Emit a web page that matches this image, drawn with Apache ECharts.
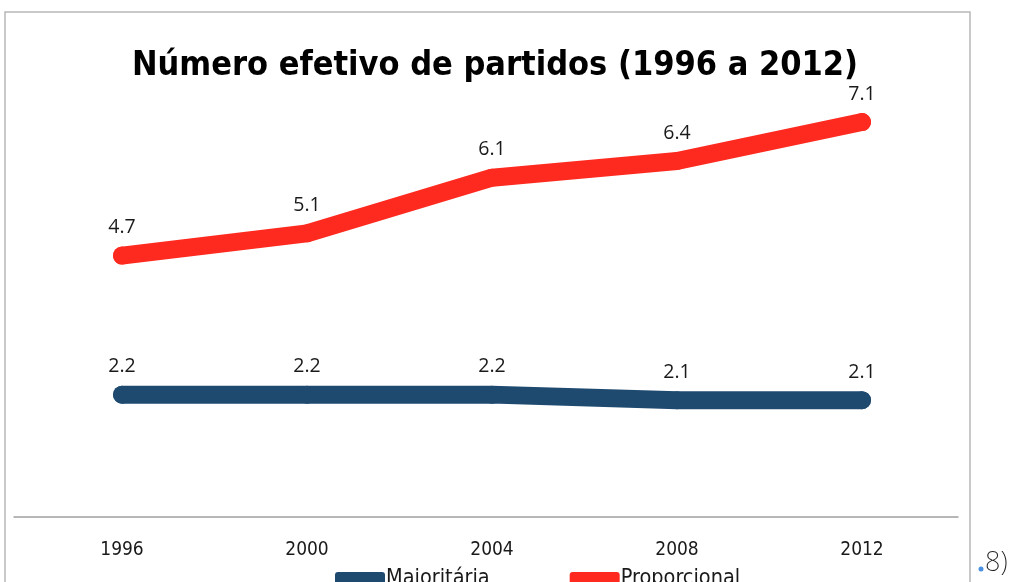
<!DOCTYPE html>
<html>
<head>
<meta charset="utf-8">
<script src="https://cdn.jsdelivr.net/npm/echarts@6/dist/echarts.min.js"></script>
<style>
    html, body { margin: 0; padding: 0; background: #fff; }
    #chart { width: 1014px; height: 582px; }
</style>
</head>
<body>
<div id="chart"></div>
<script>
// Chart data
const years = ['1996', '2000', '2004', '2008', '2012'];
const majoritaria = [2.2, 2.2, 2.2, 2.1, 2.1];
const proporcional = [4.7, 5.1, 6.1, 6.4, 7.1];
const seriesNames = ['Majoritária', 'Proporcional'];
const titleText = 'Número efetivo de partidos (1996 a 2012)';

const narrowFont = '"Liberation Sans Narrow", "DejaVu Sans Condensed", "Open Sans", sans-serif';

const chart = echarts.init(document.getElementById('chart'));

function lineSeries(name, data, color) {
    return {
        name: name,
        type: 'line',
        data: data,
        symbol: 'circle',
        symbolSize: 18,
        itemStyle: { color: color },
        lineStyle: { color: color, width: 18, cap: 'round', join: 'round' },
        label: {
            show: true,
            position: 'top',
            distance: 9,
            color: '#1a1a1a',
            fontFamily: '"Open Sans", sans-serif',
            fontSize: 19.5,
            formatter: p => p.value.toFixed(1)
        },
        emphasis: { disabled: true },
        z: 3
    };
}

const option = {
    animation: false,
    title: {
        text: titleText,
        left: 490,
        textAlign: 'center',
        top: 44,
        textStyle: {
            fontFamily: narrowFont,
            fontWeight: 'bold',
            fontSize: 34,
            color: '#000'
        }
    },
    legend: {
        data: seriesNames,
        left: 330,
        top: 562,
        itemWidth: 50,
        itemHeight: 12,
        itemGap: 80,
        icon: 'roundRect',
        textStyle: { fontFamily: narrowFont, fontSize: 21.5, color: '#1a1a1a', padding: [0, 0, 0, -4] }
    },
    grid: [
        { left: 29.5, right: 59.5, top: 72, bottom: 65 },
        { left: 14, right: 56, top: 72, bottom: 65 }
    ],
    xAxis: [
        {
            type: 'category',
            gridIndex: 0,
            data: years,
            boundaryGap: true,
            axisLine: { show: false },
            axisTick: { show: false },
            axisLabel: {
                fontFamily: narrowFont,
                fontSize: 19,
                color: '#1a1a1a',
                margin: 24
            }
        },
        {
            type: 'category',
            gridIndex: 1,
            data: years,
            axisLine: { show: true, lineStyle: { color: '#a0a0a0', width: 1.5 } },
            axisTick: { show: false },
            axisLabel: { show: false }
        }
    ],
    yAxis: [
        { type: 'value', gridIndex: 0, min: 0, max: 8, show: false },
        { type: 'value', gridIndex: 1, min: 0, max: 8, show: false }
    ],
    series: [
        lineSeries(seriesNames[0], majoritaria, '#1f4a70'),
        lineSeries(seriesNames[1], proporcional, '#ff2a1f')
    ],
    graphic: [
        {
            type: 'rect',
            shape: { x: 5, y: 12, width: 965, height: 620 },
            style: { fill: 'none', stroke: '#b8b8b8', lineWidth: 1.5 },
            silent: true
        },
        {
            type: 'text',
            left: 985,
            top: 550,
            style: {
                text: '8)',
                fontFamily: '"Noto Sans", sans-serif',
                fontWeight: 200,
                fontSize: 27,
                fill: '#222'
            }
        },
        {
            type: 'circle',
            shape: { cx: 981, cy: 569, r: 2.5 },
            style: { fill: '#4a90e2' },
            silent: true
        }
    ]
};

chart.setOption(option);
</script>
</body>
</html>
